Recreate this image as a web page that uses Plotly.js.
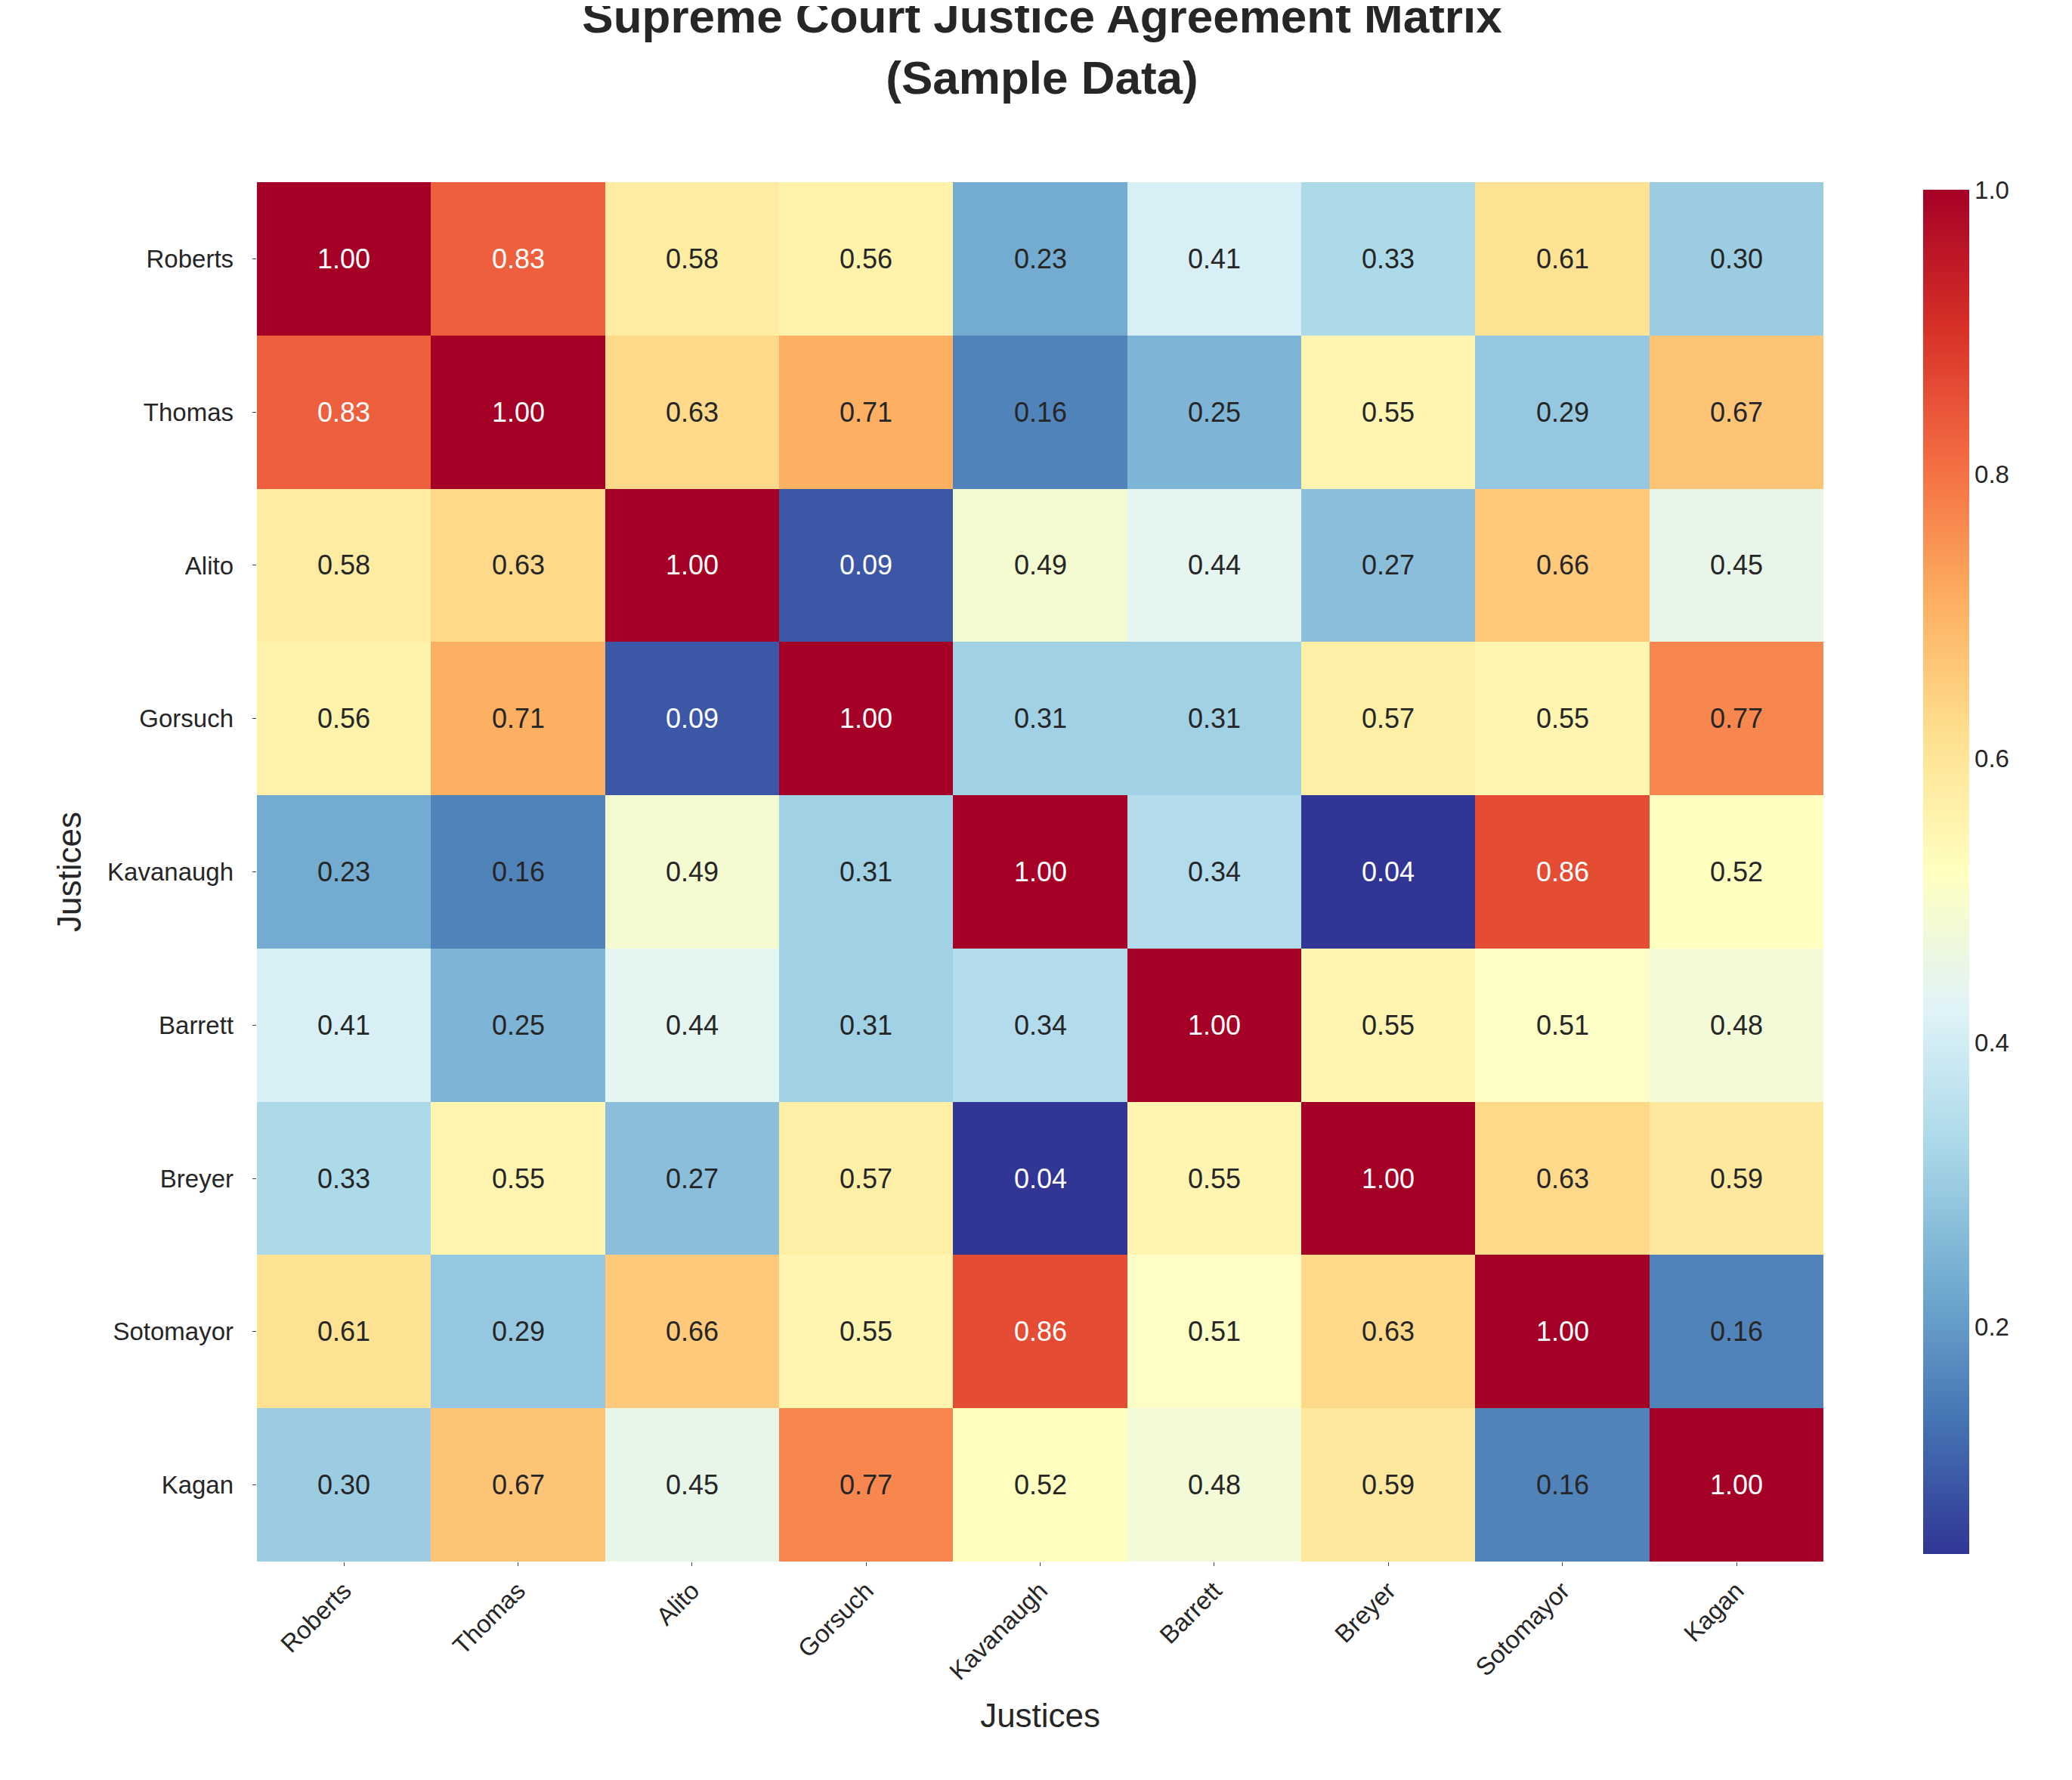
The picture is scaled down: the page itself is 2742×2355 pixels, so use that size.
<script src="https://cdn.plot.ly/plotly-3.0.1.min.js"></script>
<div id="chart" style="width:2742px;height:2355px;"></div>
<script>
    var justices = ['Roberts', 'Thomas', 'Alito', 'Gorsuch', 'Kavanaugh', 'Barrett', 'Breyer', 'Sotomayor', 'Kagan'];
    var rowRoberts   = [1.00, 0.83, 0.58, 0.56, 0.23, 0.41, 0.33, 0.61, 0.30];
    var rowThomas    = [0.83, 1.00, 0.63, 0.71, 0.16, 0.25, 0.55, 0.29, 0.67];
    var rowAlito     = [0.58, 0.63, 1.00, 0.09, 0.49, 0.44, 0.27, 0.66, 0.45];
    var rowGorsuch   = [0.56, 0.71, 0.09, 1.00, 0.31, 0.31, 0.57, 0.55, 0.77];
    var rowKavanaugh = [0.23, 0.16, 0.49, 0.31, 1.00, 0.34, 0.04, 0.86, 0.52];
    var rowBarrett   = [0.41, 0.25, 0.44, 0.31, 0.34, 1.00, 0.55, 0.51, 0.48];
    var rowBreyer    = [0.33, 0.55, 0.27, 0.57, 0.04, 0.55, 1.00, 0.63, 0.59];
    var rowSotomayor = [0.61, 0.29, 0.66, 0.55, 0.86, 0.51, 0.63, 1.00, 0.16];
    var rowKagan     = [0.30, 0.67, 0.45, 0.77, 0.52, 0.48, 0.59, 0.16, 1.00];
    var z = [rowRoberts, rowThomas, rowAlito, rowGorsuch, rowKavanaugh, rowBarrett, rowBreyer, rowSotomayor, rowKagan];

    // matplotlib RdYlBu_r
    var colorscale = [
        [0.0, '#313695'], [0.1, '#4575b4'], [0.2, '#74add1'], [0.3, '#abd9e9'],
        [0.4, '#e0f3f8'], [0.5, '#ffffbf'], [0.6, '#fee090'], [0.7, '#fdae61'],
        [0.8, '#f46d43'], [0.9, '#d73027'], [1.0, '#a50026']
    ];

    var annotations = [];
    z.forEach(function (row, i) {
        row.forEach(function (v, j) {
            annotations.push({
                x: justices[j], y: justices[i], text: v.toFixed(2), showarrow: false,
                font: {size: 36, color: (v >= 0.8 || v <= 0.1) ? '#ffffff' : '#262626'}
            });
        });
    });

    var trace = {
        z: z, x: justices, y: justices, type: 'heatmap',
        colorscale: colorscale, zmin: 0.04, zmax: 1.0,
        colorbar: {
            x: 0.973, xanchor: 'left', len: 1, y: 0.5, lenmode: 'fraction', thickness: 61,
            outlinewidth: 0, tickvals: [0.2, 0.4, 0.6, 0.8, 1.0], ticktext: ['0.2', '0.4', '0.6', '0.8', '1.0'],
            tickfont: {size: 33, color: '#262626'}, ticks: ''
        }
    };

    var layout = {
        width: 2742, height: 2355,
        margin: {t: 233, l: 332, r: 154, b: 297},
        paper_bgcolor: '#ffffff', plot_bgcolor: '#ffffff',
        font: {family: 'Arial, Liberation Sans, sans-serif', color: '#262626'},
        title: {text: '<b>Supreme Court Justice Agreement Matrix<br>(Sample Data)</b>', x: 0.5, y: 0.985, yanchor: 'top', font: {size: 62}},
        xaxis: {domain: [0, 0.919], tickangle: -45, tickfont: {size: 33}, showgrid: false, zeroline: false,
                title: {text: 'Justices', font: {size: 44}, standoff: 25}},
        yaxis: {autorange: 'reversed', tickfont: {size: 33}, showgrid: false, zeroline: false, ticksuffix: '  ',
                title: {text: 'Justices', font: {size: 44}, standoff: 20}},
        annotations: annotations
    };

    Plotly.newPlot('chart', [trace], layout);
</script>
